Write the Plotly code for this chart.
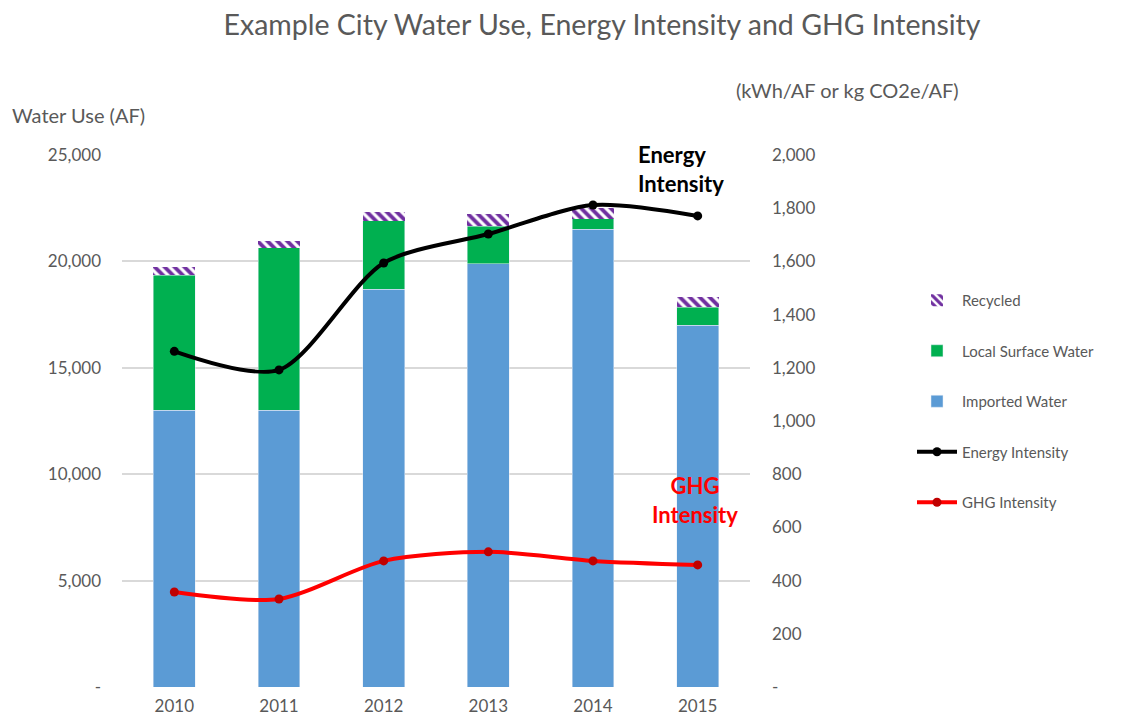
import plotly.graph_objects as go

years = ["2010", "2011", "2012", "2013", "2014", "2015"]
imported = [13000, 13000, 18700, 19900, 21500, 17000]
local_surface = [6350, 7650, 3200, 1750, 500, 850]
recycled = [390, 330, 400, 600, 520, 470]
energy_intensity = [1262, 1192, 1594, 1703, 1812, 1771]
ghg_intensity = [357, 331, 474, 508, 474, 459]

left_tickvals = [0, 5000, 10000, 15000, 20000, 25000]
left_ticktext = ["-", "5,000", "10,000", "15,000", "20,000", "25,000"]
right_tickvals = [0, 200, 400, 600, 800, 1000, 1200, 1400, 1600, 1800, 2000]
right_ticktext = ["-", "200", "400", "600", "800", "1,000", "1,200", "1,400", "1,600", "1,800", "2,000"]

FONT = "Lato"
GRAY = "#595959"

# page body has an 8px default margin; work in screen coordinates and convert
OFF = 8
W, H = 1128 - 2 * OFF, 723 - 2 * OFF
L, R, T, B = 122 - OFF, 750 - OFF, 155 - OFF, 687 - OFF


def px_x(px):
    return (px - OFF - L) / (R - L)


def px_y(py):
    return (B - (py - OFF)) / (B - T)


fig = go.Figure()
fig.add_trace(go.Bar(x=years, y=imported, name="Imported Water", marker_color="#5B9BD5",
                     width=0.4, legendrank=3, legendgroup="c"))
fig.add_trace(go.Bar(x=years, y=local_surface, name="Local Surface Water", marker_color="#00B050",
                     width=0.4, legendrank=2, legendgroup="b"))
fig.add_trace(go.Bar(x=years, y=recycled, name="Recycled", width=0.4, legendrank=1, legendgroup="a",
                     marker=dict(color="white", line=dict(width=0),
                                 pattern=dict(shape="\\", fgcolor="#7030A0", bgcolor="white",
                                              fgopacity=1, size=7, solidity=0.55))))
fig.add_trace(go.Scatter(x=years, y=energy_intensity, name="Energy Intensity", yaxis="y2",
                         mode="lines+markers", line=dict(color="black", width=4, shape="spline", smoothing=0.8),
                         marker=dict(color="black", size=9), legendrank=4, legendgroup="d"))
fig.add_trace(go.Scatter(x=years, y=ghg_intensity, name="GHG Intensity", yaxis="y2",
                         mode="lines+markers", line=dict(color="#FF0000", width=4, shape="spline", smoothing=0.8),
                         marker=dict(color="#C00000", size=9), legendrank=5, legendgroup="e"))

fig.update_layout(
    width=W, height=H,
    margin=dict(l=L, r=W - R, t=T, b=H - B),
    plot_bgcolor="white", paper_bgcolor="white",
    barmode="stack",
    font=dict(family=FONT, color=GRAY, size=17),
    title=dict(text="Example City Water Use, Energy Intensity and GHG Intensity",
               x=(602 - OFF) / W, xanchor="center", y=1 - (25 - OFF) / H, yanchor="middle",
               font=dict(size=28.5, color=GRAY, family=FONT)),
    xaxis=dict(showgrid=False, showline=False, ticks="", tickfont=dict(size=17, color=GRAY),
               ticklabelstandoff=7, automargin=False),
    yaxis=dict(range=[0, 25000], tickvals=left_tickvals, ticktext=left_ticktext,
               showgrid=True, gridcolor="#D9D9D9", gridwidth=1.5, zeroline=False, showline=False,
               tickfont=dict(size=17, color=GRAY), ticklabelstandoff=20, automargin=False),
    yaxis2=dict(range=[0, 2000], tickvals=right_tickvals, ticktext=right_ticktext,
                overlaying="y", side="right", showgrid=False, zeroline=False, showline=False,
                tickfont=dict(size=17, color=GRAY), ticklabelstandoff=21, automargin=False),
    legend=dict(x=px_x(912), y=px_y(284), xanchor="left", yanchor="top",
                font=dict(size=15, color=GRAY), tracegroupgap=28, itemwidth=40,
                bgcolor="rgba(0,0,0,0)"),
    showlegend=True,
    annotations=[
        dict(text="Water Use (AF)", x=px_x(10), y=px_y(115), xref="paper", yref="paper",
             xanchor="left", yanchor="middle", showarrow=False, font=dict(size=20, color=GRAY)),
        dict(text="(kWh/AF or kg CO2e/AF)", x=px_x(734), y=px_y(90), xref="paper", yref="paper",
             xanchor="left", yanchor="middle", showarrow=False, font=dict(size=20, color=GRAY)),
        dict(text="<b>Energy<br>Intensity</b>", x=px_x(636), y=px_y(169), xref="paper", yref="paper",
             xanchor="left", yanchor="middle", align="left", showarrow=False,
             font=dict(size=22, color="black")),
        dict(text="<b>GHG<br>Intensity</b>", x=px_x(695), y=px_y(500), xref="paper", yref="paper",
             xanchor="center", yanchor="middle", align="center", showarrow=False,
             font=dict(size=22, color="#FF0000")),
    ],
)

fig.write_html("out.html")
